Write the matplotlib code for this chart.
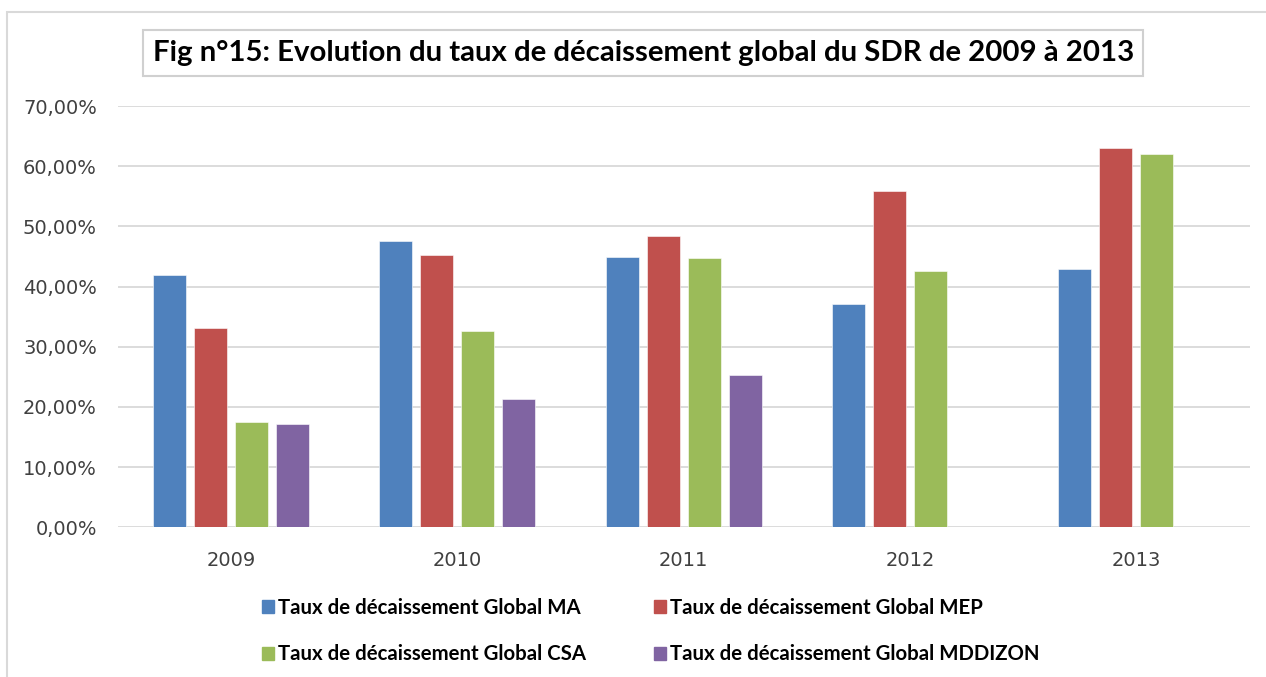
import numpy as np
import matplotlib
matplotlib.use('Agg')
import matplotlib.pyplot as plt
from matplotlib.patches import Rectangle, Patch
from matplotlib.ticker import FuncFormatter

years = ['2009', '2010', '2011', '2012', '2013']
series_names = ['Taux de décaissement Global MA',
                'Taux de décaissement Global MEP',
                'Taux de décaissement Global CSA',
                'Taux de décaissement Global MDDIZON']
taux_ma = [42.0, 47.5, 44.9, 37.1, 43.0]
taux_mep = [33.1, 45.2, 48.4, 55.9, 63.0]
taux_csa = [17.5, 32.6, 44.7, 42.6, 62.0]
taux_mddizon = [17.1, 21.3, 25.3, 0.0, 0.0]
colors = ['#4F81BD', '#C0504D', '#9BBB59', '#8064A2']

title_font = ['Lato', 'DejaVu Sans']

fig = plt.figure(figsize=(12.66, 6.77), dpi=100)
ax = fig.add_axes([0.093, 0.2211, 0.894, 0.6223])

x = np.arange(len(years))
pitch = 0.181
width = 0.146
all_series = [taux_ma, taux_mep, taux_csa, taux_mddizon]
for i, (vals, col) in enumerate(zip(all_series, colors)):
    ax.bar(x + (i - 1.5) * pitch, vals, width=width, color=col,
           edgecolor='white', linewidth=0.4, zorder=3)

ax.set_xlim(-0.5, 4.5)
ax.set_ylim(0, 70)
ax.set_yticks(np.arange(0, 71, 10))
ax.yaxis.set_major_formatter(FuncFormatter(lambda v, p: f'{v:.2f}'.replace('.', ',') + '%'))
ax.set_xticks(x)
ax.set_xticklabels(years)
ax.tick_params(axis='both', length=0, labelsize=14, labelcolor='#404040')
ax.tick_params(axis='y', pad=15)
ax.tick_params(axis='x', pad=17)
ax.grid(axis='y', color='#D9D9D9', linewidth=1.3, zorder=0)
for s in ax.spines.values():
    s.set_visible(False)

# chart title in a box
fig.text(0.508, 1 - 53 / 677, 'Fig n°15: Evolution du taux de décaissement global du SDR de 2009 à 2013',
         ha='center', va='center', fontsize=21.2, fontweight='bold', family=title_font,
         bbox=dict(boxstyle='square,pad=0.33', facecolor='white', edgecolor='#D0D0D0', linewidth=1.5))

# outer frame (partly cropped)
fig.patches.append(Rectangle((7 / 1266, -0.2), 1.2, 1 - 12 / 677 + 0.2, transform=fig.transFigure,
                             fill=False, edgecolor='#D9D9D9', linewidth=1.5, clip_on=False))

handles = [Patch(color=c) for c in colors]
order = [0, 2, 1, 3]
fig.legend([handles[k] for k in order], [series_names[k] for k in order],
           ncol=2, loc='center', bbox_to_anchor=(0.514, 1 - 631 / 677), frameon=False,
           prop=dict(family=title_font, weight='bold', size=14.7),
           handlelength=0.6, handleheight=0.6, handletextpad=0.2,
           columnspacing=3.3, labelspacing=1.3)

fig.savefig('out.png', dpi=100)
